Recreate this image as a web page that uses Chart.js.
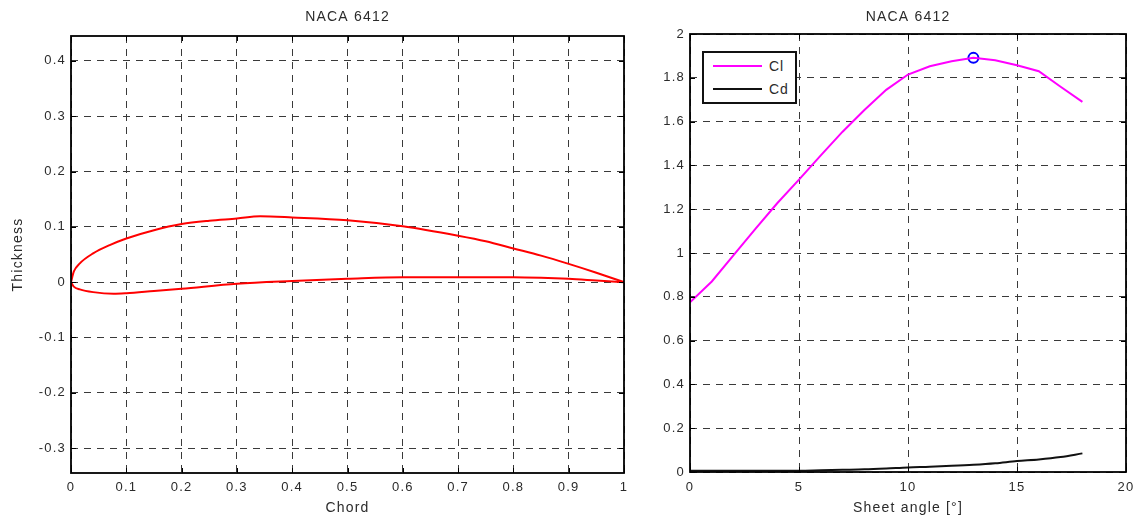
<!DOCTYPE html>
<html>
<head>
<meta charset="utf-8">
<title>NACA 6412</title>
<script src="https://cdn.jsdelivr.net/npm/chart.js@4.4.1/dist/chart.umd.min.js"></script>
<style>
    body { margin: 0; background: #fff; width: 1137px; height: 520px; position: relative; overflow: hidden; }
    #airfoil { position: absolute; left: 0; top: 0; }
    #polar { position: absolute; left: 640px; top: 0; }
    #legend {
        position: absolute; left: 702px; top: 51px; width: 91px; height: 49px;
        border: 2px solid #111; background: #fff;
        font-family: 'Liberation Sans', Arial, sans-serif; font-size: 14px; letter-spacing: 1px; color: #2b2b2b;
    }
    #legend .swatch { position: absolute; left: 9px; width: 49px; height: 0; }
    #legend .label { position: absolute; left: 65px; line-height: 16px; }
</style>
</head>
<body>
<canvas id="airfoil" width="640" height="520" style="width:640px;height:520px"></canvas>
<canvas id="polar" width="497" height="520" style="width:497px;height:520px"></canvas>
<div id="legend">
    <div class="swatch" style="top:12px;border-top:2px solid #ff00ff"></div>
    <div class="label" style="top:5px">Cl</div>
    <div class="swatch" style="top:35px;border-top:2px solid #111"></div>
    <div class="label" style="top:28px">Cd</div>
</div>
<script>
// airfoil outline (chord fraction / thickness)
var upperX = [0, 0.005, 0.016, 0.04, 0.07, 0.1, 0.15, 0.2, 0.25, 0.3, 0.342, 0.4, 0.5, 0.6, 0.7, 0.75, 0.8, 0.85, 0.9, 0.95, 1.0];
var upperY = [0, 0.019, 0.034, 0.052, 0.067, 0.079, 0.094, 0.105, 0.111, 0.115, 0.119, 0.117, 0.112, 0.101, 0.084, 0.074, 0.061, 0.048, 0.033, 0.017, 0.0];
var lowerX = [0, 0.005, 0.016, 0.04, 0.077, 0.1, 0.15, 0.2, 0.3, 0.4, 0.5, 0.6, 0.7, 0.8, 0.85, 0.9, 0.95, 1.0];
var lowerY = [0, -0.008, -0.013, -0.018, -0.021, -0.02, -0.016, -0.012, -0.003, 0.002, 0.006, 0.009, 0.009, 0.009, 0.008, 0.006, 0.003, 0.0];

// lift / drag against sheet angle
var angle = [0, 1, 2, 3, 4, 5, 6, 7, 8, 9, 10, 11, 12, 13, 14, 15, 16, 17, 18];
var cl = [0.775, 0.87, 0.99, 1.11, 1.227, 1.335, 1.446, 1.554, 1.653, 1.745, 1.815, 1.853, 1.876, 1.891, 1.88, 1.857, 1.83, 1.759, 1.69];
var cd = [0.006, 0.006, 0.006, 0.006, 0.006, 0.006, 0.008, 0.01, 0.012, 0.016, 0.021, 0.024, 0.028, 0.033, 0.04, 0.05, 0.057, 0.068, 0.085];
var peakAngle = [13];
var peakCl = [1.891];

var chordTicks = [0, 0.1, 0.2, 0.3, 0.4, 0.5, 0.6, 0.7, 0.8, 0.9, 1];
var thickTicks = [-0.3, -0.2, -0.1, 0, 0.1, 0.2, 0.3, 0.4];
var angleTicks = [0, 5, 10, 15, 20];
var coefTicks = [0, 0.2, 0.4, 0.6, 0.8, 1, 1.2, 1.4, 1.6, 1.8, 2];

function points(xs, ys) {
    return xs.map(function(x, i) { return {x: x, y: ys[i]}; });
}

var textColor = '#2b2b2b';
var fontFamily = "'Liberation Sans', Arial, sans-serif";
Chart.defaults.color = textColor;
Chart.defaults.font.family = fontFamily;

// matlab style box round the axes with small inward tick marks
var framePlugin = {
    id: 'frame',
    beforeDraw: function(chart) { chart.ctx.letterSpacing = '1.2px'; },
    afterDraw: function(chart) {
        var ctx = chart.ctx, a = chart.chartArea;
        var xs = chart.scales.x, ys = chart.scales.y;
        ctx.save();
        ctx.letterSpacing = '0px';
        ctx.strokeStyle = '#000';
        ctx.lineWidth = 1;
        ctx.beginPath();
        xs.ticks.forEach(function(t) {
            var px = Math.round(xs.getPixelForValue(t.value)) + 0.5;
            ctx.moveTo(px, a.bottom); ctx.lineTo(px, a.bottom - 5);
            ctx.moveTo(px, a.top); ctx.lineTo(px, a.top + 5);
        });
        ys.ticks.forEach(function(t) {
            var py = Math.round(ys.getPixelForValue(t.value)) + 0.5;
            ctx.moveTo(a.left, py); ctx.lineTo(a.left + 5, py);
            ctx.moveTo(a.right, py); ctx.lineTo(a.right - 5, py);
        });
        ctx.stroke();
        ctx.lineWidth = 1.8;
        ctx.strokeRect(Math.round(a.left), Math.round(a.top), Math.round(a.right - a.left), Math.round(a.bottom - a.top));
        ctx.restore();
    }
};

function fmt(v) { return String(+v.toFixed(2)); }

function gridOpts() {
    return { color: '#3a3a3a', lineWidth: 1, drawTicks: false };
}
function borderOpts() {
    return { display: false, dash: [7, 6] };
}
function tickList(list) {
    return function(scale) { scale.ticks = list.map(function(v) { return {value: v}; }); };
}
function fitX(h) {
    return function(s) { s.height = h; s.paddingLeft = 0; s.paddingRight = 0; };
}
function topTitle(text, height, min, max) {
    return {
        type: 'linear', position: 'top', axis: 'x', min: min, max: max,
        grid: { display: false, drawTicks: false }, border: { display: false },
        ticks: { display: false },
        title: { display: true, text: text, font: { size: 14 }, padding: { top: 9, bottom: 0 } },
        afterFit: fitX(height)
    };
}

new Chart(document.getElementById('airfoil'), {
    type: 'scatter',
    data: {
        datasets: [{
            data: points(upperX, upperY),
            showLine: true, borderColor: '#ff0000', borderWidth: 2, pointRadius: 0,
            cubicInterpolationMode: 'monotone'
        }, {
            data: points(lowerX, lowerY),
            showLine: true, borderColor: '#ff0000', borderWidth: 2, pointRadius: 0,
            cubicInterpolationMode: 'monotone'
        }]
    },
    options: {
        responsive: false, animation: false,
        layout: { padding: { left: 0, right: 16, top: 0, bottom: 0 } },
        plugins: { legend: { display: false }, tooltip: { enabled: false } },
        scales: {
            x: {
                type: 'linear', min: 0, max: 1, bounds: 'data',
                afterBuildTicks: tickList(chordTicks),
                ticks: { font: { size: 13 }, padding: 7, maxRotation: 0, autoSkip: false, callback: fmt },
                grid: gridOpts(), border: borderOpts(),
                title: { display: true, text: 'Chord', font: { size: 14 }, padding: { top: 0, bottom: 3 } },
                afterFit: fitX(47)
            },
            y: {
                type: 'linear', min: -0.345, max: 0.445, bounds: 'data',
                afterBuildTicks: tickList(thickTicks),
                ticks: { font: { size: 13 }, padding: 5, autoSkip: false, callback: fmt },
                grid: gridOpts(), border: borderOpts(),
                title: { display: true, text: 'Thickness', font: { size: 14 }, padding: { top: 10, bottom: 0 } },
                afterFit: function(s) { s.width = 71; }
            },
            top: topTitle('NACA 6412', 36, 0, 1)
        }
    },
    plugins: [framePlugin]
});

new Chart(document.getElementById('polar'), {
    type: 'scatter',
    data: {
        datasets: [{
            label: 'Cl',
            data: points(angle, cl),
            showLine: true, borderColor: '#ff00ff', borderWidth: 2, pointRadius: 0
        }, {
            label: 'Cd',
            data: points(angle, cd),
            showLine: true, borderColor: '#111', borderWidth: 2, pointRadius: 0,
            cubicInterpolationMode: 'monotone'
        }, {
            label: 'max',
            data: points(peakAngle, peakCl),
            showLine: false, pointRadius: 5, pointBorderWidth: 2,
            pointBorderColor: '#0000ff', pointBackgroundColor: 'rgba(0,0,0,0)'
        }]
    },
    options: {
        responsive: false, animation: false,
        layout: { padding: { left: 0, right: 11, top: 0, bottom: 0 } },
        plugins: { legend: { display: false }, tooltip: { enabled: false } },
        scales: {
            x: {
                type: 'linear', min: 0, max: 20, bounds: 'data',
                afterBuildTicks: tickList(angleTicks),
                ticks: { font: { size: 13 }, padding: 8, maxRotation: 0, autoSkip: false, callback: fmt },
                grid: gridOpts(), border: borderOpts(),
                title: { display: true, text: 'Sheet angle [\u00b0]', font: { size: 14 }, padding: { top: 0, bottom: 3 } },
                afterFit: fitX(48)
            },
            y: {
                type: 'linear', min: 0, max: 2, bounds: 'data',
                afterBuildTicks: tickList(coefTicks),
                ticks: { font: { size: 13 }, padding: 5, autoSkip: false, callback: fmt },
                grid: gridOpts(), border: borderOpts(),
                afterFit: function(s) { s.width = 50; }
            },
            top: topTitle('NACA 6412', 34, 0, 20)
        }
    },
    plugins: [framePlugin]
});
</script>
</body>
</html>
